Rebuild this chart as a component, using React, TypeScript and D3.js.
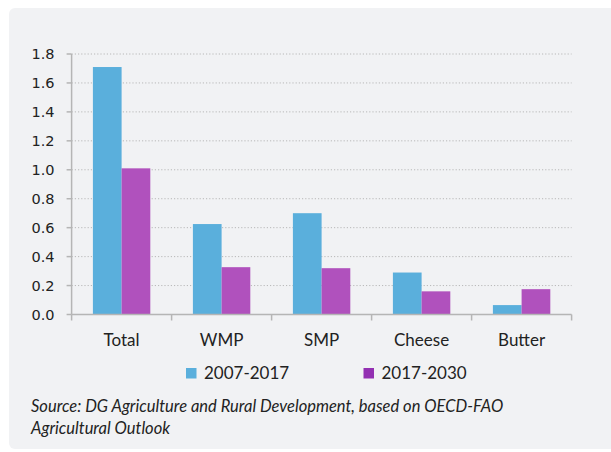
import React from "react";
import * as d3 from "d3";

const categories = ["Total", "WMP", "SMP", "Cheese", "Butter"];
const seriesNames = ["2007-2017", "2017-2030"];
const values2007_2017 = [1.71, 0.625, 0.70, 0.29, 0.065];
const values2017_2030 = [1.01, 0.327, 0.32, 0.16, 0.175];
const yTicks = [0, 0.2, 0.4, 0.6, 0.8, 1.0, 1.2, 1.4, 1.6, 1.8];
const sourceLines = [
  "Source: DG Agriculture and Rural Development, based on OECD-FAO",
  "Agricultural Outlook",
];

const W = 611;
const H = 452;
const left = 71.6;
const right = 571.6;
const top = 54;
const bottom = 314.5;

const barColors = ["#5aafdc", "#b051bd"];
const legendColors = ["#5aafdc", "#9330b2"];

export default function App() {
  const x = d3.scaleBand<string>().domain(categories).range([left, right]).paddingInner(0).paddingOuter(0);
  const y = d3.scaleLinear().domain([0, 1.8]).range([bottom, top]);
  const x1 = d3.scaleBand<string>().domain(seriesNames).range([0, 57.4]);
  const groupOffset = (x.bandwidth() - 57.4) / 2;
  const series = [values2007_2017, values2017_2030];
  const axisColor = "#b5b5b5";

  return (
    <svg width={W} height={H} style={{ position: "absolute", left: 0, top: 0 }}>
      <rect x={0} y={0} width={W} height={H} fill="#ffffff" />
      <rect x={9} y={8} width={W + 20} height={441} rx={6} fill="#f1f2f4" />
      {yTicks.filter((t) => t > 0).map((t) => (
        <line key={"g" + t} x1={left} x2={right} y1={y(t)} y2={y(t)} stroke="#b8b8b8" strokeWidth={1} strokeDasharray="1.2,2" />
      ))}
      {categories.map((c, i) =>
        series.map((s, j) => (
          <rect
            key={c + j}
            x={(x(c) as number) + groupOffset + (x1(seriesNames[j]) as number)}
            y={y(s[i])}
            width={x1.bandwidth()}
            height={y(0) - y(s[i])}
            fill={barColors[j]}
          />
        ))
      )}
      <line x1={left} x2={left} y1={top} y2={bottom} stroke={axisColor} strokeWidth={1.5} />
      {yTicks.map((t) => (
        <g key={"t" + t}>
          <line x1={left - 5} x2={left} y1={y(t)} y2={y(t)} stroke={axisColor} strokeWidth={1.5} />
          <text x={54.5} y={y(t)} dy="0.36em" textAnchor="end" fontFamily="DejaVu Sans" fontSize={14.5} fill="#222">
            {d3.format(".1f")(t)}
          </text>
        </g>
      ))}
      <line x1={left} x2={right} y1={bottom} y2={bottom} stroke={axisColor} strokeWidth={1.5} />
      {[...categories.map((c) => x(c) as number), right].map((v, i) => (
        <line key={"xt" + i} x1={v} x2={v} y1={bottom} y2={bottom + 6} stroke={axisColor} strokeWidth={1.5} />
      ))}
      {categories.map((c) => (
        <text key={"xl" + c} x={(x(c) as number) + x.bandwidth() / 2} y={346} textAnchor="middle" fontFamily="Lato" fontSize={17} fill="#222">
          {c}
        </text>
      ))}
      {seriesNames.map((s, j) => {
        const lx = [186, 363.5][j];
        return (
          <g key={"lg" + s}>
            <rect x={lx} y={368} width={10.5} height={10.5} fill={legendColors[j]} />
            <text x={lx + 18} y={379} fontFamily="Lato" fontSize={17} fill="#222">{s}</text>
          </g>
        );
      })}
      {sourceLines.map((l, i) => (
        <text key={"s" + i} x={31} y={412 + i * 21.5} fontFamily="Lato" fontStyle="italic" fontSize={16.5} fill="#222">
          {l}
        </text>
      ))}
    </svg>
  );
}
